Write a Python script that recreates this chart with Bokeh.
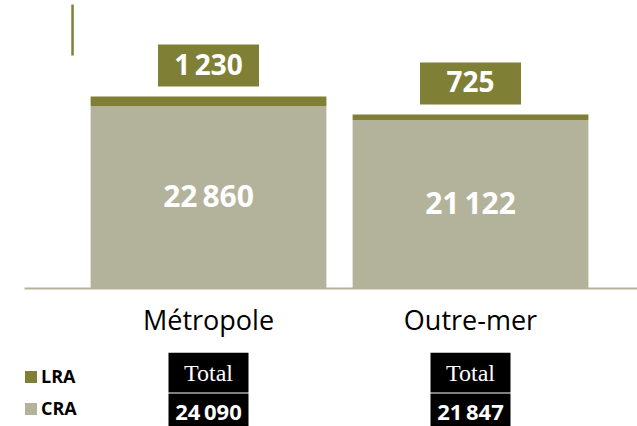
from bokeh.plotting import figure
from bokeh.models import Range1d, FixedTicker, Legend, LegendItem, ColumnDataSource
from bokeh.layouts import column
from bokeh.core.properties import value
from bokeh.embed import file_html
from bokeh.resources import INLINE

# ---- data ----
categories = ["Métropole", "Outre-mer"]
cra = [22860, 21122]
lra = [1230, 725]
series_names = ["LRA", "CRA"]
total_label = "Total"

OLIVE = "#7f7f35"
BEIGE = "#b3b39b"
FONT = "Open Sans"

def fmt(v):
    return f"{v:,}".replace(",", "\u2009")

totals = [c + l for c, l in zip(cra, lra)]
xs = [i + 0.5 for i in range(len(categories))]

# ---- layout constants ----
FRAME_H = 288
Y_END = 36144
ypx = Y_END / FRAME_H  # data units per pixel
H1 = 352
H2 = 426 - H1

x_range = Range1d(-0.2023, 2.1374)

p = figure(width=637, height=H1, x_range=x_range, y_range=Range1d(0, Y_END),
           output_backend="svg", toolbar_location=None, y_axis_location=None,
           min_border_left=24, min_border_right=0, min_border_top=0,
           min_border_bottom=H1 - FRAME_H)
p.outline_line_color = None
p.grid.visible = False
p.background_fill_color = "white"

src = ColumnDataSource(dict(
    x=xs, cra=cra, lra=lra, total=totals,
    cra_mid=[c / 2 for c in cra],
    box_y=[t + 31 * ypx for t in totals],
    cra_txt=[fmt(v) for v in cra],
    lra_txt=[fmt(v) for v in lra],
))

r_cra = p.vbar(x="x", bottom=0, top="cra", width=0.9, source=src, fill_color=BEIGE, line_color=None)
r_lra = p.vbar(x="x", bottom="cra", top="total", width=0.9, source=src, fill_color=OLIVE, line_color=None)

# value box above each bar
p.rect(x="x", y="box_y", width=101, height=42, width_units="screen", height_units="screen",
       source=src, fill_color=OLIVE, line_color=None)
p.text(x="x", y="box_y", text="lra_txt", source=src, text_color="white",
       text_font=value(FONT), text_font_style="bold", text_font_size="28px",
       text_align="center", text_baseline="alphabetic", y_offset=-1.5)
p.text(x="x", y="cra_mid", text="cra_txt", source=src, text_color="white",
       text_font=value(FONT), text_font_style="bold", text_font_size="30px",
       text_align="center", text_baseline="alphabetic", y_offset=-1.5)

# small vertical axis stub
p.segment(x0=[-0.019], y0=[29242], x1=[-0.019], y1=[35642], line_color=OLIVE, line_width=2.5)

ax = p.xaxis[0]
ax.ticker = FixedTicker(ticks=xs)
ax.major_label_overrides = {x: c for x, c in zip(xs, categories)}
ax.axis_line_color = BEIGE
ax.axis_line_width = 2
ax.major_tick_line_color = None
ax.minor_tick_line_color = None
ax.major_label_text_font = FONT
ax.major_label_text_font_size = "27px"
ax.major_label_text_color = "black"
ax.major_label_standoff = 6

# ---- bottom panel: totals + legend ----
q = figure(width=637, height=H2, x_range=x_range, y_range=Range1d(0, H2),
           output_backend="svg", toolbar_location=None,
           x_axis_location=None, y_axis_location=None,
           min_border_left=24, min_border_right=0, min_border_top=0, min_border_bottom=0)
q.outline_line_color = None
q.grid.visible = False

src2 = ColumnDataSource(dict(
    x=xs, label=[total_label] * len(xs), tot=[fmt(v) for v in totals],
))
q.rect(x="x", y=54, width=80, height=40, width_units="screen", height_units="screen",
       source=src2, fill_color="black", line_color=None)
q.rect(x="x", y=13, width=80, height=40, width_units="screen", height_units="screen",
       source=src2, fill_color="black", line_color=None)
q.text(x="x", y=45, text="label", source=src2, text_color="white",
       text_font=value("Liberation Serif"), text_font_size="24px",
       text_align="center", text_baseline="alphabetic", y_offset=-9)
q.text(x="x", y=7, text="tot", source=src2, text_color="white",
       text_font=value(FONT), text_font_style="bold", text_font_size="22px",
       text_align="center", text_baseline="alphabetic", y_offset=-9)

# legend proxies (no visible marks; they only provide the legend swatches)
nan = float("nan")
q_lra = q.vbar(x=[nan], top=[nan], width=0.9, fill_color=OLIVE, line_color=None)
q_cra = q.vbar(x=[nan], top=[nan], width=0.9, fill_color=BEIGE, line_color=None)
legend = Legend(items=[LegendItem(label=series_names[0], renderers=[q_lra]),
                       LegendItem(label=series_names[1], renderers=[q_cra])],
                location=(-1, 6), orientation="vertical",
                glyph_width=15, glyph_height=15, label_height=15, spacing=8,
                padding=0, margin=0, border_line_color=None, background_fill_alpha=0,
                label_text_font=FONT, label_text_font_size="18px",
                label_text_color="black",
                label_text_font_style="bold", label_standoff=3)
q.add_layout(legend)

layout = column(p, q, spacing=0)
open("out.html", "w").write(file_html(layout, INLINE))
